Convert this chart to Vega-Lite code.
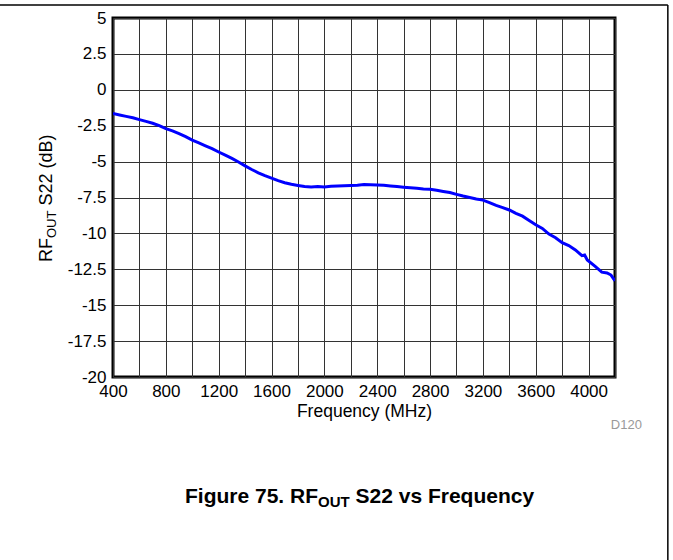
{
  "$schema": "https://vega.github.io/schema/vega-lite/v6.json",
  "width": 502,
  "height": 359,
  "autosize": {"type": "none"},
  "padding": {"left": 113, "top": 18, "right": 58, "bottom": 183},
  "background": "white",
  "config": {
    "view": {"stroke": "#000000", "strokeWidth": 3},
    "font": "Liberation Sans",
    "axis": {"labelFont": "Liberation Sans", "titleFont": "Liberation Sans"}
  },
  "resolve": {"axis": {"x": "independent", "y": "independent"}},
  "data": {
    "values": [
      {"freq": 400, "db": -1.65}, {"freq": 450, "db": -1.75}, {"freq": 500, "db": -1.85},
      {"freq": 550, "db": -1.95}, {"freq": 600, "db": -2.08}, {"freq": 650, "db": -2.2},
      {"freq": 700, "db": -2.33}, {"freq": 750, "db": -2.5}, {"freq": 800, "db": -2.7},
      {"freq": 850, "db": -2.86}, {"freq": 900, "db": -3.05}, {"freq": 950, "db": -3.26},
      {"freq": 1000, "db": -3.5}, {"freq": 1050, "db": -3.7}, {"freq": 1100, "db": -3.9},
      {"freq": 1150, "db": -4.1}, {"freq": 1200, "db": -4.33}, {"freq": 1250, "db": -4.55},
      {"freq": 1300, "db": -4.78}, {"freq": 1350, "db": -5.03}, {"freq": 1400, "db": -5.3},
      {"freq": 1450, "db": -5.55}, {"freq": 1500, "db": -5.78}, {"freq": 1550, "db": -5.98},
      {"freq": 1600, "db": -6.15}, {"freq": 1650, "db": -6.33}, {"freq": 1700, "db": -6.47},
      {"freq": 1750, "db": -6.58}, {"freq": 1800, "db": -6.66}, {"freq": 1850, "db": -6.74},
      {"freq": 1900, "db": -6.76}, {"freq": 1950, "db": -6.74}, {"freq": 2000, "db": -6.76},
      {"freq": 2050, "db": -6.72}, {"freq": 2100, "db": -6.7}, {"freq": 2150, "db": -6.68},
      {"freq": 2200, "db": -6.66}, {"freq": 2250, "db": -6.64}, {"freq": 2300, "db": -6.6},
      {"freq": 2350, "db": -6.61}, {"freq": 2400, "db": -6.63}, {"freq": 2450, "db": -6.65},
      {"freq": 2500, "db": -6.7}, {"freq": 2550, "db": -6.74}, {"freq": 2600, "db": -6.78},
      {"freq": 2650, "db": -6.82}, {"freq": 2700, "db": -6.85}, {"freq": 2750, "db": -6.9},
      {"freq": 2800, "db": -6.93}, {"freq": 2850, "db": -7.0}, {"freq": 2900, "db": -7.08},
      {"freq": 2950, "db": -7.15}, {"freq": 3000, "db": -7.28}, {"freq": 3050, "db": -7.4},
      {"freq": 3100, "db": -7.5}, {"freq": 3150, "db": -7.6}, {"freq": 3200, "db": -7.68},
      {"freq": 3250, "db": -7.85}, {"freq": 3300, "db": -8.05}, {"freq": 3350, "db": -8.2},
      {"freq": 3400, "db": -8.37}, {"freq": 3450, "db": -8.6}, {"freq": 3500, "db": -8.8},
      {"freq": 3550, "db": -9.1}, {"freq": 3600, "db": -9.4}, {"freq": 3650, "db": -9.65},
      {"freq": 3700, "db": -10.05}, {"freq": 3750, "db": -10.3}, {"freq": 3800, "db": -10.65},
      {"freq": 3850, "db": -10.85}, {"freq": 3900, "db": -11.15}, {"freq": 3950, "db": -11.55},
      {"freq": 3970, "db": -11.5}, {"freq": 3990, "db": -11.85}, {"freq": 4050, "db": -12.3},
      {"freq": 4100, "db": -12.7}, {"freq": 4140, "db": -12.75}, {"freq": 4170, "db": -12.9},
      {"freq": 4200, "db": -13.3}
    ]
  },
  "layer": [
    {
      "mark": {"type": "line", "color": "#0000ff", "strokeWidth": 3, "clip": true},
      "encoding": {
        "x": {
          "field": "freq",
          "type": "quantitative",
          "scale": {"domain": [400, 4200], "nice": false, "zero": false},
          "axis": {
            "values": [400, 600, 800, 1000, 1200, 1400, 1600, 1800, 2000, 2200, 2400, 2600, 2800, 3000, 3200, 3400, 3600, 3800, 4000, 4200],
            "labelExpr": "(datum.value % 400 == 0 && datum.value <= 4000) ? toString(datum.value) : ''",
            "grid": true,
            "gridColor": "#333333",
            "gridWidth": 1,
            "domain": false,
            "ticks": false,
            "labelFontSize": 17,
            "labelColor": "#000000",
            "labelPadding": 6,
            "labelFlush": false,
            "labelOverlap": false,
            "title": "Frequency (MHz)",
            "titleFontSize": 17.5,
            "titleFontWeight": "normal",
            "titleColor": "#000000",
            "titlePadding": 3
          }
        },
        "y": {
          "field": "db",
          "type": "quantitative",
          "scale": {"domain": [-20, 5], "nice": false, "zero": false},
          "axis": {
            "values": [-20, -17.5, -15, -12.5, -10, -7.5, -5, -2.5, 0, 2.5, 5],
            "labelExpr": "toString(datum.value)",
            "grid": true,
            "gridColor": "#333333",
            "gridWidth": 1,
            "domain": false,
            "ticks": false,
            "labelFontSize": 17,
            "labelColor": "#000000",
            "labelPadding": 7,
            "labelFlush": false,
            "labelOverlap": false,
            "title": null
          }
        }
      }
    },
    {
      "data": {"values": [{}]},
      "mark": {"type": "text", "text": "RF", "angle": 270, "align": "left", "baseline": "alphabetic", "fontSize": 18, "color": "#000000"},
      "encoding": {"x": {"datum": -58, "type": "quantitative", "axis": null}, "y": {"datum": -12.0, "type": "quantitative", "axis": null}}
    },
    {
      "data": {"values": [{}]},
      "mark": {"type": "text", "text": "OUT", "angle": 270, "align": "left", "baseline": "alphabetic", "fontSize": 13, "color": "#000000"},
      "encoding": {"x": {"datum": -31.5, "type": "quantitative", "axis": null}, "y": {"datum": -10.32, "type": "quantitative", "axis": null}}
    },
    {
      "data": {"values": [{}]},
      "mark": {"type": "text", "text": "S22 (dB)", "angle": 270, "align": "left", "baseline": "alphabetic", "fontSize": 18, "color": "#000000"},
      "encoding": {"x": {"datum": -58, "type": "quantitative", "axis": null}, "y": {"datum": -8.06, "type": "quantitative", "axis": null}}
    },
    {
      "data": {"values": [{}]},
      "mark": {"type": "text", "text": "Figure 75. RF", "align": "left", "baseline": "alphabetic", "fontSize": 21, "fontWeight": "bold", "color": "#000000"},
      "encoding": {"x": {"datum": 945, "type": "quantitative", "axis": null}, "y": {"datum": -28.77, "type": "quantitative", "axis": null}}
    },
    {
      "data": {"values": [{}]},
      "mark": {"type": "text", "text": "OUT", "align": "left", "baseline": "alphabetic", "fontSize": 15, "fontWeight": "bold", "color": "#000000"},
      "encoding": {"x": {"datum": 1952, "type": "quantitative", "axis": null}, "y": {"datum": -29.05, "type": "quantitative", "axis": null}}
    },
    {
      "data": {"values": [{}]},
      "mark": {"type": "text", "text": "S22 vs Frequency", "align": "left", "baseline": "alphabetic", "fontSize": 21, "fontWeight": "bold", "color": "#000000"},
      "encoding": {"x": {"datum": 2236, "type": "quantitative", "axis": null}, "y": {"datum": -28.77, "type": "quantitative", "axis": null}}
    },
    {
      "data": {"values": [{}]},
      "mark": {"type": "text", "text": "D120", "align": "right", "baseline": "alphabetic", "fontSize": 13, "color": "#999999"},
      "encoding": {"x": {"datum": 4404, "type": "quantitative", "axis": null}, "y": {"datum": -23.62, "type": "quantitative", "axis": null}}
    },
    {
      "data": {"values": [{}]},
      "mark": {"type": "rule", "color": "#000000", "strokeWidth": 1.5, "clip": false},
      "encoding": {
        "x": {"datum": -460, "type": "quantitative", "axis": null},
        "x2": {"datum": 4600},
        "y": {"datum": 5.905, "type": "quantitative", "axis": null}
      }
    },
    {
      "data": {"values": [{}]},
      "mark": {"type": "rule", "color": "#000000", "strokeWidth": 1.5, "clip": false},
      "encoding": {
        "x": {"datum": 4600, "type": "quantitative", "axis": null},
        "y": {"datum": 5.905, "type": "quantitative", "axis": null},
        "y2": {"datum": -33}
      }
    }
  ]
}
